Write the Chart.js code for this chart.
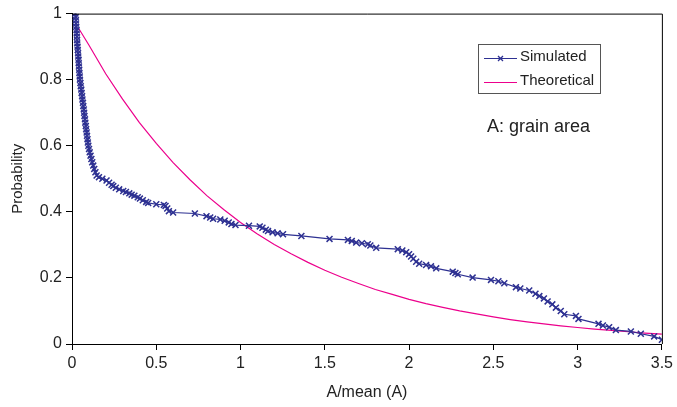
<!DOCTYPE html>
<html>
<head>
<meta charset="utf-8">
<script src="https://cdn.jsdelivr.net/npm/chart.js@4"></script>
<style>
  html, body { margin: 0; padding: 0; background: #fff; }
  #wrap { width: 677px; height: 407px; }
</style>
</head>
<body>
<div id="wrap"><canvas id="chart" width="677" height="407"></canvas></div>
<script>
// Simulated grain area distribution (A/mean vs probability)
const simX = [
  0.020, 0.022, 0.023, 0.024, 0.025, 0.027, 0.028, 0.029, 0.030, 0.031,
  0.033, 0.034, 0.036, 0.037, 0.039, 0.040, 0.041, 0.043, 0.044, 0.046,
  0.047, 0.050, 0.052, 0.055, 0.057, 0.060, 0.062, 0.065, 0.067, 0.070,
  0.072, 0.074, 0.077, 0.079, 0.082, 0.084, 0.087, 0.089, 0.092, 0.094,
  0.097, 0.101, 0.105, 0.110, 0.115, 0.120, 0.126, 0.132, 0.139, 0.146,
  0.160, 0.180, 0.205, 0.220, 0.235, 0.245, 0.260, 0.280, 0.304, 0.320,
  0.340, 0.354, 0.370, 0.390, 0.403, 0.420, 0.440, 0.452, 0.500, 0.545,
  0.555, 0.565, 0.575, 0.600, 0.729, 0.798, 0.820, 0.837, 0.880, 0.906,
  0.930, 0.946, 0.970, 1.050, 1.114, 1.130, 1.150, 1.163, 1.190, 1.220,
  1.252, 1.361, 1.528, 1.637, 1.660, 1.686, 1.720, 1.755, 1.770, 1.805,
  1.933, 1.960, 1.983, 2.000, 2.012, 2.025, 2.042, 2.060, 2.101, 2.130,
  2.161, 2.259, 2.275, 2.289, 2.377, 2.486, 2.530, 2.565, 2.634, 2.660,
  2.713, 2.750, 2.773, 2.800, 2.822, 2.850, 2.871, 2.900, 2.921, 2.990,
  3.005, 3.124, 3.150, 3.187, 3.227, 3.316, 3.375, 3.454, 3.500
];
const simY = [
  1.00, 0.99, 0.98, 0.97, 0.96, 0.95, 0.94, 0.93, 0.92, 0.91,
  0.90, 0.89, 0.88, 0.87, 0.86, 0.85, 0.84, 0.83, 0.82, 0.81,
  0.80, 0.79, 0.78, 0.77, 0.76, 0.75, 0.74, 0.73, 0.72, 0.71,
  0.70, 0.69, 0.68, 0.67, 0.66, 0.65, 0.64, 0.63, 0.62, 0.61,
  0.60, 0.59, 0.58, 0.57, 0.56, 0.55, 0.54, 0.53, 0.52, 0.51,
  0.505, 0.500, 0.495, 0.488, 0.482, 0.478, 0.473, 0.468, 0.463, 0.460,
  0.456, 0.452, 0.449, 0.444, 0.440, 0.435, 0.430, 0.427, 0.423, 0.421,
  0.418, 0.410, 0.402, 0.398, 0.395, 0.387, 0.383, 0.379, 0.377, 0.373,
  0.368, 0.363, 0.360, 0.358, 0.356, 0.352, 0.346, 0.342, 0.338, 0.335,
  0.332, 0.327, 0.318, 0.315, 0.312, 0.307, 0.305, 0.302, 0.298, 0.291,
  0.287, 0.283, 0.278, 0.272, 0.265, 0.258, 0.249, 0.243, 0.239, 0.235,
  0.229, 0.219, 0.215, 0.211, 0.201, 0.194, 0.190, 0.184, 0.172, 0.168,
  0.162, 0.152, 0.145, 0.138, 0.129, 0.120, 0.110, 0.100, 0.090, 0.085,
  0.076, 0.061, 0.056, 0.051, 0.042, 0.038, 0.031, 0.023, 0.013
];

// Theoretical curve
const theoX = [
  0.04, 0.1, 0.2, 0.3, 0.4, 0.5, 0.6, 0.7, 0.8, 0.9, 1.0, 1.1, 1.2,
  1.3, 1.4, 1.5, 1.6, 1.7, 1.8, 1.9, 2.0, 2.1, 2.2, 2.3, 2.4, 2.5,
  2.6, 2.7, 2.8, 2.9, 3.0, 3.1, 3.2, 3.3, 3.4, 3.5
];
const theoY = [
  0.955, 0.905, 0.818, 0.741, 0.670, 0.607, 0.549, 0.497, 0.449, 0.407,
  0.368, 0.333, 0.301, 0.273, 0.247, 0.223, 0.202, 0.183, 0.165, 0.150,
  0.135, 0.122, 0.111, 0.100, 0.091, 0.082, 0.074, 0.067, 0.061, 0.055,
  0.050, 0.045, 0.041, 0.037, 0.033, 0.030
];

const xTicks = [0, 0.5, 1, 1.5, 2, 2.5, 3, 3.5];
const yTicks = [0, 0.2, 0.4, 0.6, 0.8, 1];

const simColor = '#2E3192';
const theoColor = '#EC008C';
const fontFamily = "'Liberation Sans', Arial, sans-serif";

const simPoints = simX.map((x, i) => ({ x: x, y: simY[i] }));
const theoPoints = theoX.map((x, i) => ({ x: x, y: theoY[i] }));

// frame on top/right, plus the legend box and the note
const extras = {
    id: 'extras',
    afterDraw(chart) {
        const ctx = chart.ctx;
        const a = chart.chartArea;
        ctx.save();
        ctx.strokeStyle = '#000';
        ctx.lineWidth = 1;
        ctx.beginPath();
        ctx.moveTo(a.left, a.top + 0.5);
        ctx.lineTo(a.right + 0.5, a.top + 0.5);
        ctx.lineTo(a.right + 0.5, a.bottom);
        ctx.stroke();

        // legend box
        const bx = 478, by = 44, bw = 122, bh = 49;
        ctx.fillStyle = '#fff';
        ctx.fillRect(bx, by, bw, bh);
        ctx.strokeStyle = '#555';
        ctx.strokeRect(bx + 0.5, by + 0.5, bw, bh);

        const ds = chart.data.datasets;
        ctx.font = '15px ' + fontFamily;
        ctx.textBaseline = 'middle';
        ctx.textAlign = 'left';

        // Simulated
        ctx.strokeStyle = simColor;
        ctx.lineWidth = 1;
        ctx.beginPath();
        ctx.moveTo(484, 58.5);
        ctx.lineTo(517, 58.5);
        ctx.stroke();
        ctx.lineWidth = 1.3;
        ctx.beginPath();
        ctx.moveTo(498, 56); ctx.lineTo(503, 61);
        ctx.moveTo(503, 56); ctx.lineTo(498, 61);
        ctx.stroke();
        ctx.fillStyle = '#222';
        ctx.fillText(ds[0].label, 520, 57);

        // Theoretical
        ctx.strokeStyle = theoColor;
        ctx.lineWidth = 1;
        ctx.beginPath();
        ctx.moveTo(484, 82.5);
        ctx.lineTo(517, 82.5);
        ctx.stroke();
        ctx.fillText(ds[1].label, 520, 81);

        ctx.font = '18px ' + fontFamily;
        ctx.fillText('A: grain area', 487, 127);
        ctx.restore();
    }
};

new Chart(document.getElementById('chart').getContext('2d'), {
    type: 'scatter',
    data: {
        datasets: [
            {
                label: 'Simulated',
                data: simPoints,
                showLine: true,
                borderColor: simColor,
                backgroundColor: simColor,
                borderWidth: 1.2,
                pointStyle: 'crossRot',
                pointRadius: 4.2,
                pointBorderWidth: 1.5,
                tension: 0
            },
            {
                label: 'Theoretical',
                data: theoPoints,
                showLine: true,
                borderColor: theoColor,
                backgroundColor: theoColor,
                borderWidth: 1.2,
                pointRadius: 0,
                tension: 0
            }
        ]
    },
    options: {
        responsive: false,
        animation: false,
        layout: { padding: { left: 0, top: 13, right: 14, bottom: 0 } },
        plugins: {
            legend: { display: false },
            tooltip: { enabled: false }
        },
        scales: {
            x: {
                type: 'linear',
                min: 0,
                max: 3.5,
                afterBuildTicks: (s) => { s.ticks = xTicks.map(v => ({ value: v })); },
                afterFit: (s) => { s.height = 63; },
                grid: { display: true, drawOnChartArea: false, color: '#000', tickLength: 6 },
                border: { color: '#000', width: 1 },
                ticks: {
                    color: '#222',
                    font: { size: 16, family: fontFamily },
                    padding: 4,
                    maxRotation: 0,
                    callback: (v) => String(v)
                },
                title: {
                    display: true,
                    text: 'A/mean (A)',
                    color: '#222',
                    font: { size: 16, family: fontFamily },
                    padding: { top: 6, bottom: 5 }
                }
            },
            y: {
                min: 0,
                max: 1,
                afterBuildTicks: (s) => { s.ticks = yTicks.map(v => ({ value: v })); },
                afterFit: (s) => { s.width = 72; },
                grid: { display: true, drawOnChartArea: false, color: '#000', tickLength: 6 },
                border: { color: '#000', width: 1 },
                ticks: {
                    color: '#222',
                    font: { size: 16, family: fontFamily },
                    padding: 4,
                    callback: (v) => String(v)
                },
                title: {
                    display: true,
                    text: 'Probability',
                    color: '#222',
                    font: { size: 15, family: fontFamily },
                    padding: { top: 9, bottom: 0 }
                }
            }
        }
    },
    plugins: [extras]
});
</script>
</body>
</html>
